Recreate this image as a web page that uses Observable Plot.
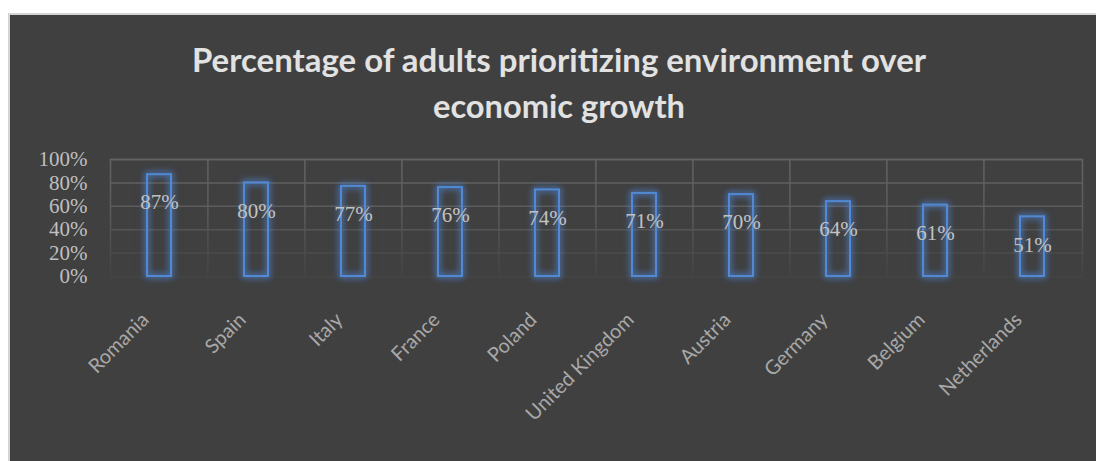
<!DOCTYPE html>
<html><head><meta charset="utf-8">
<script src="https://cdn.jsdelivr.net/npm/d3@7"></script>
<script src="https://cdn.jsdelivr.net/npm/@observablehq/plot@0.6"></script>
<style>
body{margin:0;background:#fff;width:1096px;height:461px;overflow:hidden;position:relative;}
#panel{position:absolute;left:8px;top:13px;width:1100px;height:460px;background:#404040;border-top:2px solid #d4d4d4;border-left:2px solid #d4d4d4;}
.title{position:absolute;left:559px;font-family:Lato,sans-serif;font-weight:700;color:#e2e2e2;font-size:32px;line-height:1;white-space:nowrap;transform-origin:center center;}
#chart{position:absolute;left:10px;top:140px;}
g[aria-label="bar"] rect{filter:drop-shadow(0 0 3px rgba(80,140,230,0.9)) drop-shadow(0 0 3px rgba(80,140,230,0.5));}
g[aria-label="x-axis tick label"]{fill:#a8a8a8;}
g[aria-label="y-axis tick label"]{fill:#bfbfbf;}
</style>
</head><body>
<div id="panel"></div>
<div class="title" id="t1">Percentage of adults prioritizing environment over</div>
<div class="title" id="t2">economic growth</div>
<div id="chart"></div>
<script>
const countries = ["Romania","Spain","Italy","France","Poland","United Kingdom","Austria","Germany","Belgium","Netherlands"];
const values = [87,80,77,76,74,71,70,64,61,51];
const yTicks = [0,20,40,60,80,100];

const data = countries.map((c,i)=>({country:c, value:values[i]}));

const W = 1086, H = 321, ML = 100, MR = 14, MT = 19, MB = 185;
const step = (W - ML - MR) / countries.length;

function defs(){
  const ns = "http://www.w3.org/2000/svg";
  const d = document.createElementNS(ns,"defs");
  const g = document.createElementNS(ns,"linearGradient");
  g.setAttribute("id","gfade");
  g.setAttribute("gradientUnits","userSpaceOnUse");
  g.setAttribute("x1","0"); g.setAttribute("x2","0");
  g.setAttribute("y1", String(MT)); g.setAttribute("y2", String(H-MB));
  [[0,"#636363"],[0.45,"#5c5c5c"],[0.8,"#4b4b4b"],[1,"#444444"]].forEach(([o,c])=>{
    const s = document.createElementNS(ns,"stop");
    s.setAttribute("offset", o); s.setAttribute("stop-color", c);
    g.appendChild(s);
  });
  d.appendChild(g);
  return d;
}

const plot = Plot.plot({
  width: W, height: H,
  marginLeft: ML, marginRight: MR, marginTop: MT, marginBottom: MB,
  style: {background: "transparent", color: "#bfbfbf", overflow: "visible"},
  x: {domain: countries, paddingInner: 0.75, paddingOuter: 0.375, label: null},
  y: {domain: [0,100], label: null},
  marks: [
    defs,
    Plot.gridY(yTicks, {stroke: "url(#gfade)", strokeOpacity: 1, strokeWidth: 1.5}),
    Plot.ruleX(countries.slice(1), {x: d=>d, dx: -step/2, y1: 0, y2: 100, stroke: "url(#gfade)", strokeOpacity: 1, strokeWidth: 1.5}),
    Plot.frame({stroke: "url(#gfade)", strokeWidth: 1.5}),
    Plot.barY(data, {x: "country", y: "value", fill: "none", stroke: "#5189d4", strokeWidth: 2}),
    Plot.text(data, {x: "country", y: "value", text: d => d.value + "%", dy: 28, fill: "#c2c2c2", fontFamily: "Liberation Serif", fontSize: 21}),
    Plot.axisY({ticks: yTicks, tickFormat: d => d + "%", tickSize: 0, tickPadding: 23, fontFamily: "Liberation Serif", fontSize: 21, label: null}),
    Plot.axisX({tickRotate: -45, tickSize: 0, tickPadding: 40, dx: -14, fontFamily: "Lato", fontSize: 20, label: null})
  ]
});
document.getElementById("chart").appendChild(plot);

function placeTitle(id, targetW, baseline){
  const el = document.getElementById(id);
  const r = el.getBoundingClientRect();
  const s = targetW ? targetW / r.width : 1;
  el.style.top = (baseline - 0.8*32) + "px";
  el.style.transform = `translateX(-50%) scaleX(${s})`;
}
placeTitle("t1", 734, 70);
placeTitle("t2", 252, 116);
</script>
</body></html>
